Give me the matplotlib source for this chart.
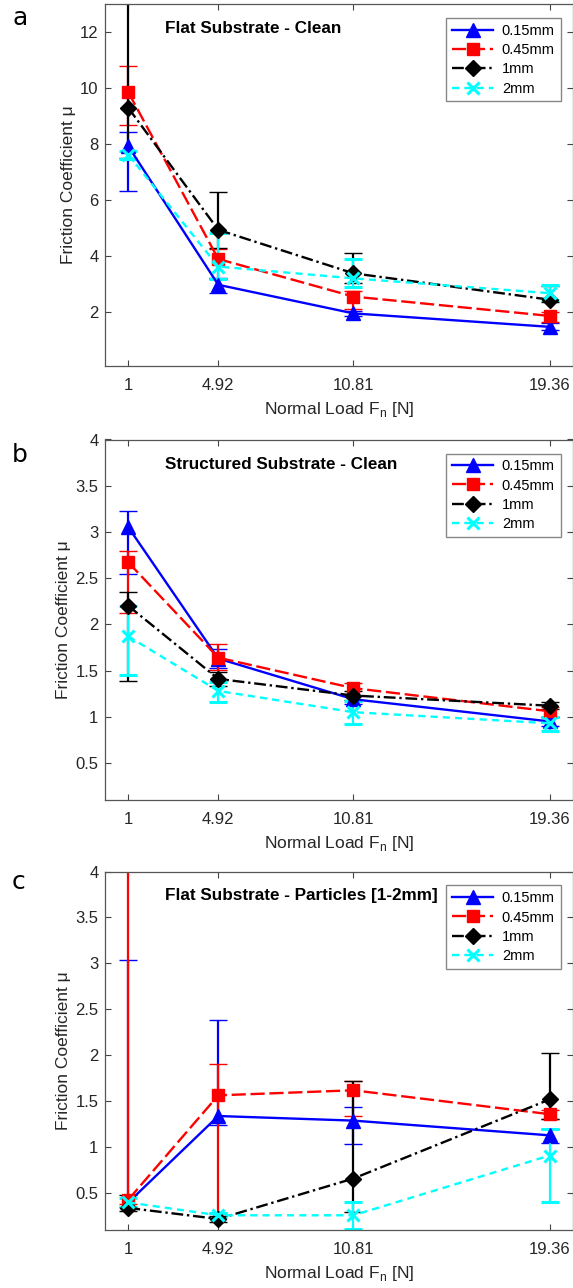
import numpy as np
import matplotlib
matplotlib.use('Agg')
import matplotlib.pyplot as plt

plt.rcParams['font.family'] = ['Liberation Sans', 'DejaVu Sans']

# Normal loads [N]
loads = [1, 4.92, 10.81, 19.36]
load_labels = ['1', '4.92', '10.81', '19.36']
sizes = ['0.15mm', '0.45mm', '1mm', '2mm']

# (a) flat substrate, clean: mean, lower error, upper error
a_015 = [7.92, 2.98, 1.96, 1.48]
a_015_lo = [1.59, 0.30, 0.10, 0.10]
a_015_hi = [0.51, 0.25, 0.10, 0.12]
a_045 = [9.85, 3.90, 2.56, 1.87]
a_045_lo = [1.16, 0.70, 0.45, 0.20]
a_045_hi = [0.92, 0.35, 0.20, 0.15]
a_1 = [9.29, 4.94, 3.39, 2.45]
a_1_lo = [1.79, 0.65, 0.35, 0.10]
a_1_hi = [4.50, 1.35, 0.72, 0.50]
a_2 = [7.62, 3.63, 3.21, 2.68]
a_2_lo = [0.15, 0.45, 0.30, 0.25]
a_2_hi = [0.15, 1.20, 0.68, 0.30]

# (b) structured substrate, clean
b_015 = [3.05, 1.63, 1.19, 0.95]
b_015_lo = [0.50, 0.10, 0.05, 0.05]
b_015_hi = [0.18, 0.10, 0.05, 0.05]
b_045 = [2.67, 1.64, 1.31, 1.06]
b_045_lo = [0.55, 0.13, 0.08, 0.06]
b_045_hi = [0.12, 0.15, 0.06, 0.05]
b_1 = [2.20, 1.41, 1.23, 1.12]
b_1_lo = [0.81, 0.08, 0.05, 0.04]
b_1_hi = [0.15, 0.08, 0.05, 0.04]
b_2 = [1.87, 1.28, 1.05, 0.93]
b_2_lo = [0.42, 0.12, 0.13, 0.08]
b_2_hi = [0.33, 0.10, 0.12, 0.07]

# (c) flat substrate with particles [1-2mm]
c_015 = [0.40, 1.34, 1.29, 1.13]
c_015_lo = [0.05, 0.10, 0.25, 0.08]
c_015_hi = [2.64, 1.04, 0.15, 0.07]
c_045 = [0.43, 1.565, 1.62, 1.36]
c_045_lo = [0.05, 1.28, 0.28, 0.05]
c_045_hi = [4.00, 0.345, 0.10, 0.05]
c_1 = [0.34, 0.22, 0.66, 1.52]
c_1_lo = [0.03, 0.03, 0.36, 0.21]
c_1_hi = [0.14, 0.03, 1.06, 0.51]
c_2 = [0.40, 0.26, 0.26, 0.91]
c_2_lo = [0.05, 0.03, 0.15, 0.51]
c_2_hi = [0.05, 0.03, 0.15, 0.29]

styles = [
    dict(color='#0000ff', marker='^', ms=10.5, dashes=None),
    dict(color='#ff0000', marker='s', ms=8.5, dashes=(6, 2)),
    dict(color='#000000', marker='D', ms=8, dashes=(5, 1.6, 1, 1.6)),
    dict(color='#00ffff', marker='x', ms=9, dashes=(3, 2.2)),
]

W, H = 573, 1288
fig = plt.figure(figsize=(W / 100, H / 100), dpi=100)


def px_axes(left, top, right, bottom):
    return fig.add_axes([left / W, 1 - bottom / H, (right - left) / W, (bottom - top) / H])


def panel(ax, series, ylim, yticks, title, letter, letter_y):
    handles = []
    for (m, lo, hi), st, lab in zip(series, styles, sizes):
        eb = ax.errorbar(loads, m, yerr=[lo, hi], color=st['color'], lw=1.7,
                         elinewidth=1.6, capsize=6.5, capthick=1.6,
                         marker=st['marker'], ms=st['ms'], mfc=st['color'],
                         mec=st['color'], mew=2.2 if st['marker'] == 'x' else 1)
        line = eb[0]
        if st['dashes'] is not None:
            line.set_dashes(st['dashes'])
        handles.append(line)

    ax.set_xlim(0, 20.4)
    ax.set_ylim(*ylim)
    ax.set_xticks(loads)
    ax.set_xticklabels(load_labels)
    ax.set_yticks(yticks)
    ax.set_yticklabels([f'{t:g}' for t in yticks])
    ax.tick_params(direction='in', length=4, width=0.8, colors='#444444',
                   labelcolor='#262626', labelsize=12, top=True, right=True)
    ax.tick_params(axis='x', pad=9)
    ax.tick_params(axis='y', pad=5)
    for s in ax.spines.values():
        s.set_color('#555555')
        s.set_linewidth(0.9)
    ax.set_xlabel('Normal Load F$_\\mathregular{n}$ [N]', fontsize=12.5, color='#262626', labelpad=5)
    ax.set_ylabel('Friction Coefficient μ', fontsize=12.5, color='#262626', labelpad=3)

    ax.text(0.127, 0.932, title, transform=ax.transAxes, fontsize=12.3,
            fontweight='bold', ha='left', va='center')

    leg = ax.legend(handles, sizes, loc='upper right', fontsize=10.5,
                    bbox_to_anchor=(1 - 12.7 / 468, 1 - 14 / 360),
                    borderaxespad=0, fancybox=False, framealpha=1,
                    edgecolor='#888888', handlelength=2.8, handletextpad=0.6,
                    labelspacing=0.36, borderpad=0.4)
    leg.get_frame().set_linewidth(1.0)

    fig.text(12 / W, 1 - letter_y / H, letter, fontsize=18,
             family='DejaVu Sans', ha='left', va='baseline')


ax_a = px_axes(105.4, 4, 573.4, 365.5)
panel(ax_a, [(a_015, a_015_lo, a_015_hi), (a_045, a_045_lo, a_045_hi),
             (a_1, a_1_lo, a_1_hi), (a_2, a_2_lo, a_2_hi)],
      (0.1, 13), [2, 4, 6, 8, 10, 12], 'Flat Substrate - Clean', 'a', 25)

ax_b = px_axes(105.4, 439.5, 573.4, 800)
panel(ax_b, [(b_015, b_015_lo, b_015_hi), (b_045, b_045_lo, b_045_hi),
             (b_1, b_1_lo, b_1_hi), (b_2, b_2_lo, b_2_hi)],
      (0.1, 4), [0.5, 1, 1.5, 2, 2.5, 3, 3.5, 4], 'Structured Substrate - Clean', 'b', 462)

ax_c = px_axes(105.4, 871.5, 573.4, 1230)
panel(ax_c, [(c_015, c_015_lo, c_015_hi), (c_045, c_045_lo, c_045_hi),
             (c_1, c_1_lo, c_1_hi), (c_2, c_2_lo, c_2_hi)],
      (0.1, 4), [0.5, 1, 1.5, 2, 2.5, 3, 3.5, 4], 'Flat Substrate - Particles [1-2mm]', 'c', 889)

fig.savefig('out.png', dpi=100)
